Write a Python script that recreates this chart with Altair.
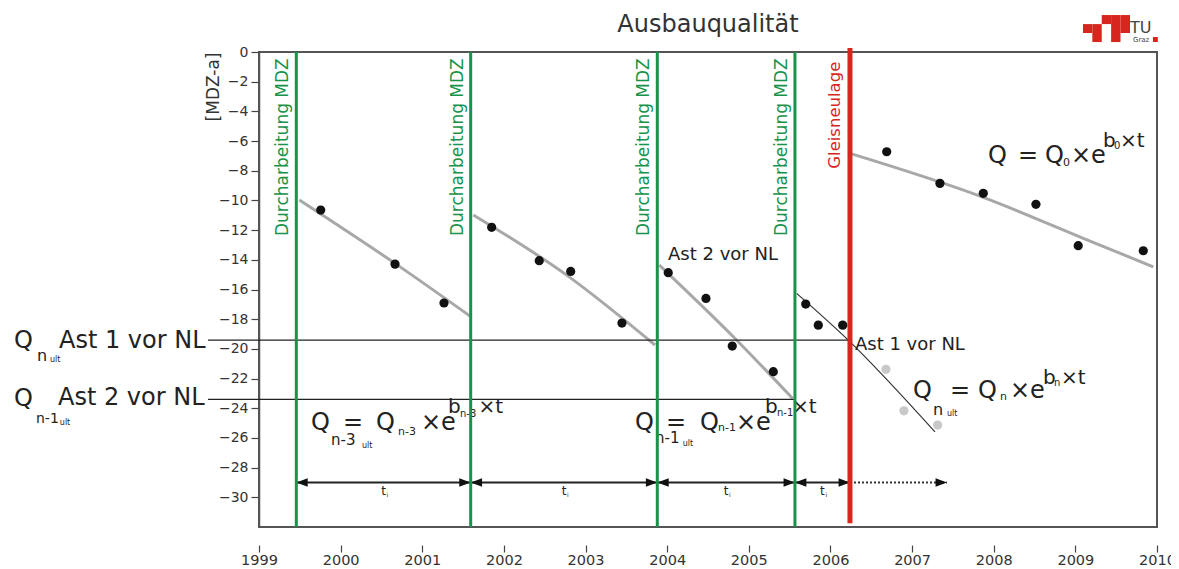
import altair as alt
import pandas as pd

# ---------------- data ----------------
TITLE = "Ausbauqualität"
TITLE_POS = [2004.5, 1.37]
Y_TITLE = "[MDZ-a]"
YEAR_TICKS = list(range(1999, 2011))
Y_TICKS = list(range(-30, 1, 2))
X_DOMAIN = [1999, 2010]
Y_DOMAIN = [-32, 0]

MAINT_X = [1999.457, 2001.593, 2003.879, 2005.565]      # Durcharbeitung MDZ
MAINT_LABEL = "Durcharbeitung MDZ"
RENEWAL_X = [2006.239]                                   # Gleisneulage
RENEWAL_LABEL = "Gleisneulage"

# measured quality values (black dots)
B1_X = [1999.756, 2000.666, 2001.266]
B1_Y = [-10.65, -14.29, -16.91]
B2_X = [2001.850, 2002.433, 2002.818, 2003.446]
B2_Y = [-11.81, -14.06, -14.78, -18.26]
B3_X = [2004.013, 2004.475, 2004.797, 2005.300]
B3_Y = [-14.87, -16.60, -19.81, -21.54]
B4_X = [2005.697, 2005.851, 2006.150]
B4_Y = [-16.98, -18.40, -18.40]
B5_X = [2006.689, 2007.341, 2007.872, 2008.517, 2009.035, 2009.832]
B5_Y = [-6.72, -8.85, -9.52, -10.26, -13.05, -13.39]
# projected values without renewal (grey dots)
P_X = [2006.680, 2006.900, 2007.313]
P_Y = [-21.38, -24.17, -25.13]

# fitted exponential branches
F1_X = [1999.494, 2000.666, 2001.585]
F1_Y = [-9.97, -14.24, -17.79]
F2_X = [2001.625, 2002.769, 2003.851]
F2_Y = [-10.98, -15.03, -19.74]
F3_X = [2003.903, 2004.810, 2005.537]
F3_Y = [-14.35, -19.18, -23.34]
F5_X = [2006.239, 2007.872, 2009.097, 2009.954]
F5_Y = [-6.83, -9.79, -12.55, -14.47]
# thin projected branch
F4_X = [2005.586, 2006.218, 2007.280]
F4_Y = [-16.26, -19.41, -25.59]

# ultimate quality levels (horizontal lines)
ULT_Y = [-19.41, -23.40]
ULT_X_START = [1998.375, 1998.375]
ULT_X_END = [RENEWAL_X[0], MAINT_X[3]]

# time-interval arrows
ARROW_Y = -29.0
PROJ_END_X = 2007.427
T_LABEL_Y = -29.85

# annotation text pieces: (text, x, y, font size)
ANNOT = [
    # left labels
    ("Q", 1995.999, -19.946, 24), ("Ast 1 vor NL", 1996.550, -19.946, 24),
    ("n", 1996.281, -20.822, 16), ("ult", 1996.440, -20.889, 8),
    ("Q", 1995.999, -23.854, 24), ("Ast 2 vor NL", 1996.538, -23.787, 24),
    ("n-1", 1996.268, -25.000, 14), ("ult", 1996.560, -25.135, 8),
    # formula 1
    ("Q", 1999.637, -25.472, 24), ("n-3", 1999.882, -26.482, 15), ("ult", 2000.262, -26.685, 8),
    ("=", 2000.029, -25.472, 24), ("Q", 2000.433, -25.472, 24), ("n-3", 2000.703, -25.809, 11),
    ("×e", 2000.984, -25.472, 24), ("b", 2001.315, -24.326, 20), ("n-3", 2001.462, -24.596, 10),
    ("×t", 2001.690, -24.326, 20),
    # formula 2
    ("Q", 2003.606, -25.472, 24), ("n-1", 2003.851, -26.348, 15), ("ult", 2004.190, -26.550, 8),
    ("=", 2003.985, -25.472, 24), ("Q", 2004.402, -25.472, 24), ("n-1", 2004.622, -25.539, 11),
    ("×e", 2004.843, -25.472, 24), ("b", 2005.198, -24.326, 20), ("n-1", 2005.345, -24.528, 10),
    ("×t", 2005.530, -24.326, 20),
    # formula 3
    ("Q", 2007.011, -23.315, 24), ("n", 2007.256, -24.461, 16), ("ult", 2007.427, -24.528, 8),
    ("=", 2007.464, -23.315, 24), ("Q", 2007.807, -23.315, 24), ("n", 2008.076, -23.450, 11),
    ("×e", 2008.199, -23.315, 24), ("b", 2008.603, -22.372, 20), ("n", 2008.738, -22.507, 10),
    ("×t", 2008.824, -22.372, 20),
    # formula 4
    ("Q", 2007.930, -7.480, 24), ("=", 2008.297, -7.480, 24), ("Q", 2008.628, -7.480, 24),
    ("0", 2008.848, -7.682, 11), ("×e", 2008.946, -7.480, 24), ("b", 2009.338, -6.402, 20),
    ("0", 2009.473, -6.536, 10), ("×t", 2009.546, -6.402, 20),
    # branch labels
    ("Ast 2 vor NL", 2004.010, -14.016, 18), ("Ast 1 vor NL", 2006.300, -20.081, 18),
]

# TU Graz logo blocks (x, x2, y, y2) and texts
LOGO_X1 = [2009.093, 2009.208, 2009.208, 2009.323, 2009.438, 2009.553]
LOGO_X2 = [2009.208, 2009.323, 2009.323, 2009.438, 2009.553, 2009.669]
LOGO_Y1 = [1.28, 1.28, 0.67, 1.88, 0.67, 1.28]
LOGO_Y2 = [1.88, 1.88, 1.28, 2.49, 2.49, 2.49]
LOGO_SQ = [2009.950, 2010.010, 0.674, 1.01]
LOGO_TEXT = ["TU", "Graz"]
LOGO_TEXT_X = [2009.669, 2009.706]
LOGO_TEXT_Y = [1.25, 0.674]
LOGO_TEXT_SIZE = [16, 7]

GREEN = "#17934a"
RED = "#d7261e"
INK = "#222222"
FONT = "DejaVu Sans"

# ---------------- scales / axes ----------------
XS = alt.Scale(domain=X_DOMAIN, nice=False, zero=False)
YS = alt.Scale(domain=Y_DOMAIN, nice=False, zero=False)
XAX = alt.Axis(values=YEAR_TICKS, format="d", title=None, domain=False, grid=False,
               offset=18, tickSize=7, tickWidth=1.2, tickColor="#444",
               labelColor="#333", labelFontSize=14.5, labelFont=FONT, labelPadding=1,
               labelFlush=False, labelOverlap=False)
YAX = alt.Axis(values=Y_TICKS, title=Y_TITLE, grid=False, domain=True, domainColor="#555",
               domainWidth=1.5, tickSize=8, tickWidth=1.2, tickColor="#444",
               labelColor="#333", labelFontSize=14, labelFont=FONT, labelPadding=3,
               labelFlush=False, labelOverlap=False, titleFont=FONT, titleFontSize=17,
               titleFontWeight="normal", titleColor="#333", titleAngle=270,
               titleAlign="right", titleBaseline="middle", titleX=-46, titleY=0)


def X(f="x"):
    return alt.X(f"{f}:Q", scale=XS, axis=XAX)


def Y(f="y"):
    return alt.Y(f"{f}:Q", scale=YS, axis=YAX)


# ---------------- frames ----------------
fit_df = pd.concat([
    pd.DataFrame({"x": F1_X, "y": F1_Y, "seg": "f1"}),
    pd.DataFrame({"x": F2_X, "y": F2_Y, "seg": "f2"}),
    pd.DataFrame({"x": F3_X, "y": F3_Y, "seg": "f3"}),
    pd.DataFrame({"x": F5_X, "y": F5_Y, "seg": "f5"}),
])
thin_df = pd.DataFrame({"x": F4_X, "y": F4_Y})
dots_df = pd.DataFrame({"x": B1_X + B2_X + B3_X + B4_X + B5_X,
                        "y": B1_Y + B2_Y + B3_Y + B4_Y + B5_Y})
proj_df = pd.DataFrame({"x": P_X, "y": P_Y})
ult_df = pd.DataFrame({"x": ULT_X_START, "x2": ULT_X_END, "y": ULT_Y})

bounds = MAINT_X + RENEWAL_X
arr_df = pd.DataFrame({"x": bounds[:-1], "x2": bounds[1:], "y": ARROW_Y})
arr_df["mid"] = (arr_df["x"] + arr_df["x2"]) / 2
arr_df["ty"] = T_LABEL_Y
dot_arrow_df = pd.DataFrame({"x": RENEWAL_X, "x2": [PROJ_END_X], "y": ARROW_Y})
head_l_df = pd.DataFrame({"x": bounds[:-1], "y": ARROW_Y})
head_r_df = pd.DataFrame({"x": bounds[1:] + [PROJ_END_X], "y": ARROW_Y})

maint_df = pd.DataFrame({"x": MAINT_X, "y": 0, "y2": -32, "ly": -0.42, "t": MAINT_LABEL})
ren_df = pd.DataFrame({"x": RENEWAL_X, "y": 0.27, "y2": -31.74, "ly": -0.65, "t": RENEWAL_LABEL})

ann_df = pd.DataFrame(ANNOT, columns=["text", "x", "y", "size"])
title_df = pd.DataFrame({"x": [TITLE_POS[0]], "y": [TITLE_POS[1]], "text": [TITLE]})
logo_df = pd.DataFrame({"x": LOGO_X1, "x2": LOGO_X2, "y": LOGO_Y1, "y2": LOGO_Y2})
logo_sq_df = pd.DataFrame({"x": [LOGO_SQ[0]], "x2": [LOGO_SQ[1]], "y": [LOGO_SQ[2]], "y2": [LOGO_SQ[3]]})
logo_txt_df = pd.DataFrame({"x": LOGO_TEXT_X, "y": LOGO_TEXT_Y,
                            "text": LOGO_TEXT, "size": LOGO_TEXT_SIZE})

# ---------------- layers ----------------
title = alt.Chart(title_df).mark_text(align="center", baseline="alphabetic", font=FONT,
                                      fontSize=24, color="#333").encode(x=X(), y=Y(), text="text:N")
fits = alt.Chart(fit_df).mark_line(color="#a8a8a8", strokeWidth=3, interpolate="monotone").encode(
    x=X(), y=Y(), detail="seg:N")
thin = alt.Chart(thin_df).mark_line(color="#333", strokeWidth=1.2, interpolate="monotone").encode(
    x=X(), y=Y())
ult = alt.Chart(ult_df).mark_rule(color=INK, strokeWidth=1.2).encode(
    x=X(), x2=alt.X2("x2:Q"), y=Y())
texts = alt.Chart(ann_df).mark_text(align="left", baseline="alphabetic", font=FONT, color=INK).encode(
    x=X(), y=Y(), text="text:N", size=alt.Size("size:Q", scale=None, legend=None))

arrows = alt.Chart(arr_df).mark_rule(color=INK, strokeWidth=2).encode(
    x=X(), x2=alt.X2("x2:Q"), y=Y())
dotted = alt.Chart(dot_arrow_df).mark_rule(color="#333", strokeWidth=2, strokeDash=[2, 2]).encode(
    x=X(), x2=alt.X2("x2:Q"), y=Y())
heads_l = alt.Chart(head_l_df).mark_point(shape="M 0 0 L 2 -0.75 L 2 0.75 Z", filled=True,
                                          size=130, color="#111", opacity=1).encode(x=X(), y=Y())
heads_r = alt.Chart(head_r_df).mark_point(shape="M 0 0 L -2 -0.75 L -2 0.75 Z", filled=True,
                                          size=130, color="#111", opacity=1).encode(x=X(), y=Y())
t_lab = alt.Chart(arr_df).mark_text(text="t", fontSize=12, font=FONT, color=INK, align="center",
                                    baseline="alphabetic").encode(x=alt.X("mid:Q", scale=XS, axis=XAX),
                                                                  y=alt.Y("ty:Q", scale=YS, axis=YAX))
t_sub = alt.Chart(arr_df).mark_text(text="i", fontSize=6, font=FONT, color=INK, align="left",
                                    baseline="alphabetic", dx=3, dy=2).encode(
    x=alt.X("mid:Q", scale=XS, axis=XAX), y=alt.Y("ty:Q", scale=YS, axis=YAX))

green = alt.Chart(maint_df).mark_rule(color=GREEN, strokeWidth=3).encode(
    x=X(), y=Y(), y2=alt.Y2("y2:Q"))
red = alt.Chart(ren_df).mark_rule(color=RED, strokeWidth=5).encode(
    x=X(), y=Y(), y2=alt.Y2("y2:Q"))
green_lab = alt.Chart(maint_df).mark_text(angle=270, align="right", baseline="alphabetic", dy=-8,
                                          fontSize=17, font=FONT, color=GREEN).encode(
    x=X(), y=alt.Y("ly:Q", scale=YS, axis=YAX), text="t:N")
red_lab = alt.Chart(ren_df).mark_text(angle=270, align="right", baseline="alphabetic", dy=-10,
                                      fontSize=16.5, font=FONT, color=RED).encode(
    x=X(), y=alt.Y("ly:Q", scale=YS, axis=YAX), text="t:N")

dots = alt.Chart(dots_df).mark_circle(size=85, color="#111", opacity=1).encode(x=X(), y=Y())
proj = alt.Chart(proj_df).mark_circle(size=85, color="#c8c8c8", opacity=1).encode(x=X(), y=Y())

logo = alt.Chart(logo_df).mark_rect(color=RED).encode(
    x=X(), x2=alt.X2("x2:Q"), y=Y(), y2=alt.Y2("y2:Q"))
logo_sq = alt.Chart(logo_sq_df).mark_rect(color=RED).encode(
    x=X(), x2=alt.X2("x2:Q"), y=Y(), y2=alt.Y2("y2:Q"))
logo_txt = alt.Chart(logo_txt_df).mark_text(align="left", baseline="alphabetic", font=FONT,
                                            color="#444").encode(
    x=X(), y=Y(), text="text:N", size=alt.Size("size:Q", scale=None, legend=None))

chart = alt.layer(
    title, fits, thin, ult, texts, arrows, dotted, heads_l, heads_r, t_lab, t_sub,
    green, red, green_lab, red_lab, dots, proj, logo, logo_sq, logo_txt,
).properties(
    width=898, height=475,
    autosize=alt.AutoSizeParams(type="none"),
    padding={"left": 251, "top": 44, "right": 14, "bottom": 40},
).configure_view(stroke="#555", strokeWidth=2)

chart.save("out.html", embed_options={"renderer": "svg", "actions": False})
